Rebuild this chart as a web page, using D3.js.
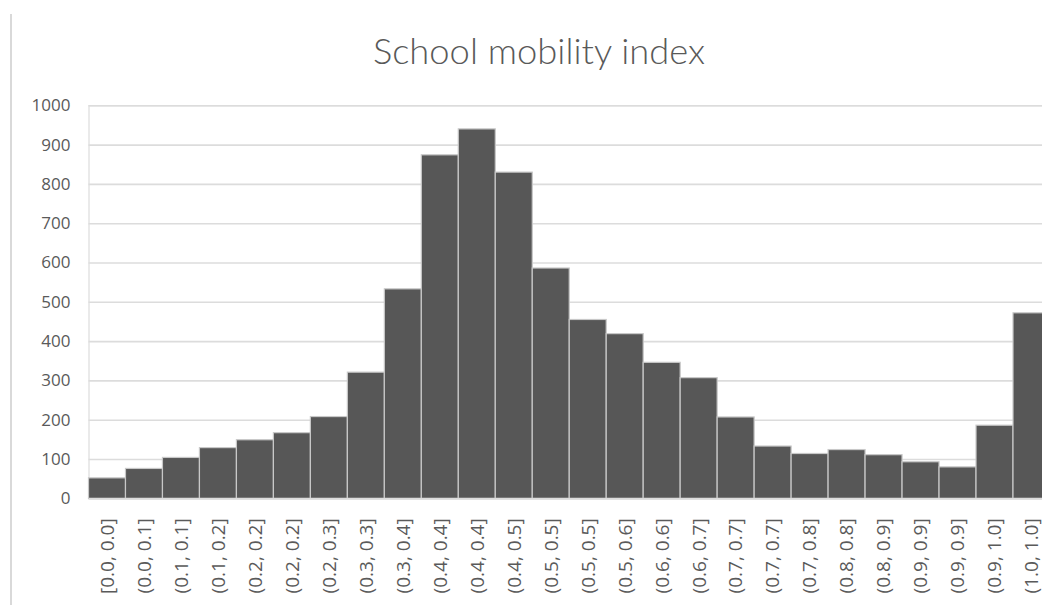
<!DOCTYPE html>
<html>
<head>
<meta charset="utf-8">
<script src="https://cdn.jsdelivr.net/npm/d3@7"></script>
<style>
  html, body { margin: 0; padding: 0; background: #ffffff; overflow: hidden; }
  svg { display: block; }
</style>
</head>
<body>
<svg id="chart" width="1042" height="605"></svg>
<script>
// Histogram bins of the school mobility index
const categories = [
  "[0.0, 0.0]", "(0.0, 0.1]", "(0.1, 0.1]", "(0.1, 0.2]", "(0.2, 0.2]",
  "(0.2, 0.2]", "(0.2, 0.3]", "(0.3, 0.3]", "(0.3, 0.4]", "(0.4, 0.4]",
  "(0.4, 0.4]", "(0.4, 0.5]", "(0.5, 0.5]", "(0.5, 0.5]", "(0.5, 0.6]",
  "(0.6, 0.6]", "(0.6, 0.7]", "(0.7, 0.7]", "(0.7, 0.7]", "(0.7, 0.8]",
  "(0.8, 0.8]", "(0.8, 0.9]", "(0.9, 0.9]", "(0.9, 0.9]", "(0.9, 1.0]",
  "(1.0, 1.0]"
];
const counts = [
  52, 76, 104, 129, 149, 167, 208, 321, 533, 874,
  940, 830, 586, 455, 419, 346, 307, 207, 133, 114,
  124, 111, 93, 80, 186, 472
];
const yTicks = [0, 100, 200, 300, 400, 500, 600, 700, 800, 900, 1000];
const title = "School mobility index";

const svg = d3.select("#chart");
const W = 1042, H = 605;

// Plot area: the category band runs past the right edge of the view
const plot = { left: 88.5, top: 105.3, bottom: 498.3, step: 36.98 };
// Bin labels repeat, so the band scale is keyed by bin index
const idx = categories.map((c, i) => i);
const x = d3.scaleBand()
  .domain(idx)
  .range([plot.left, plot.left + plot.step * categories.length])
  .paddingInner(0).paddingOuter(0);
const y = d3.scaleLinear().domain([0, 1000]).range([plot.bottom, plot.top]);

// Frame line on the left
svg.append("line")
  .attr("x1", 11).attr("x2", 11).attr("y1", 14).attr("y2", H)
  .attr("stroke", "#d9d9d9").attr("stroke-width", 2);

// Horizontal gridlines + value labels
const yAxis = d3.axisLeft(y)
  .tickValues(yTicks)
  .tickFormat(d3.format("d"))
  .tickSize(-(W - plot.left + 20))
  .tickPadding(18);
const gy = svg.append("g")
  .attr("transform", `translate(${plot.left},0)`)
  .call(yAxis);
gy.select(".domain").attr("stroke", "#e3e3e3").attr("stroke-width", 1.5);
gy.selectAll(".tick line").attr("stroke", "#dcdcdc").attr("stroke-width", 1.6);
gy.selectAll(".tick text")
  .attr("fill", "#5a5a5a")
  .style("font-family", "'Open Sans', sans-serif")
  .style("font-size", "17px");

// Bars
svg.append("g").selectAll("rect")
  .data(counts)
  .join("rect")
  .attr("x", (d, i) => x(i))
  .attr("y", d => y(d))
  .attr("width", x.bandwidth())
  .attr("height", d => y(0) - y(d))
  .attr("fill", "#575757")
  .attr("stroke", "#c8c8c8")
  .attr("stroke-width", 1.2);

// Category labels, rotated to read bottom-up
const xAxis = d3.axisBottom(x)
  .tickFormat(i => categories[i])
  .tickSize(0).tickPadding(0);
const gx = svg.append("g")
  .attr("transform", `translate(0,${plot.bottom})`)
  .call(xAxis);
gx.select(".domain").attr("stroke", "#dcdcdc").attr("stroke-width", 1.6);
gx.selectAll(".tick text")
  .attr("fill", "#5a5a5a")
  .style("font-family", "'Open Sans', sans-serif")
  .style("font-size", "19px")
  .attr("text-anchor", "end")
  .attr("transform", "rotate(-90)")
  .attr("x", -20)
  .attr("y", 0)
  .attr("dy", "0.36em");

// Chart title, sized to its box
const t = svg.append("text")
  .attr("x", 539).attr("y", 64)
  .attr("text-anchor", "middle")
  .attr("fill", "#595959")
  .style("font-family", "Lato, sans-serif")
  .style("font-weight", 300)
  .style("font-size", "34px")
  .text(title);
const tw = t.node().getComputedTextLength();
t.style("font-size", (34 * 332 / tw).toFixed(2) + "px");
</script>
</body>
</html>
